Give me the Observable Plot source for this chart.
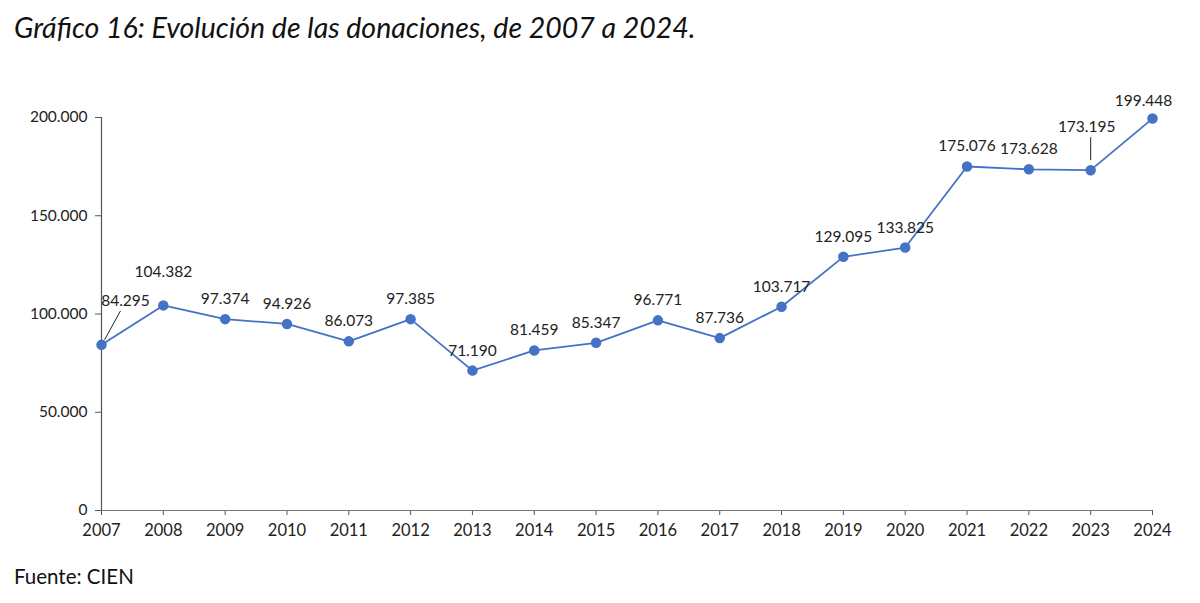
<!DOCTYPE html>
<html>
<head>
<meta charset="utf-8">
<script src="https://cdn.jsdelivr.net/npm/d3@7"></script>
<script src="https://cdn.jsdelivr.net/npm/@observablehq/plot@0.6"></script>
<style>
  html, body { margin: 0; padding: 0; background: #fff; }
  #wrap { position: relative; width: 1200px; height: 603px; overflow: hidden; font-family: Lato, "Open Sans", sans-serif; color: #111; }
  #title { position: absolute; left: 14px; top: 10px; font-size: 28.5px; font-style: italic; white-space: nowrap; }
  #chart { position: absolute; left: 0; top: 70px; }
  #caption { position: absolute; left: 14px; top: 564px; font-size: 20.5px; white-space: nowrap; }
</style>
</head>
<body>
<div id="wrap">
  <div id="title">Gráfico 16: Evolución de las donaciones, de 2007 a 2024.</div>
  <div id="chart"></div>
  <div id="caption">Fuente: CIEN</div>
</div>
<script>
const years = [2007, 2008, 2009, 2010, 2011, 2012, 2013, 2014, 2015, 2016, 2017, 2018, 2019, 2020, 2021, 2022, 2023, 2024];
const donaciones = [84295, 104382, 97374, 94926, 86073, 97385, 71190, 81459, 85347, 96771, 87736, 103717, 129095, 133825, 175076, 173628, 173195, 199448];
const yTicks = [0, 50000, 100000, 150000, 200000];

const data = years.map((year, i) => ({year, value: donaciones[i]}));

const es = d3.formatLocale({decimal: ",", thousands: ".", grouping: [3], currency: ["", ""]});
const fmt = es.format(",d");

const blue = "#4472C4";
const W = 1200, H = 480, mTop = 47, mBottom = 40, mLeft = 101, mRight = 48;
const pxPerUnit = (H - mTop - mBottom) / 200000; // pixels per donation unit
const pxPerYear = (W - mLeft - mRight) / 17;
const u = px => px / pxPerUnit;   // pixels -> value units
const yr = px => px / pxPerYear;  // pixels -> years

const special = new Set([2007, 2008, 2023, 2024]);
const byYear = y => data.filter(d => d.year === y);
const LBL = 15.5;

const chart = Plot.plot({
  width: W,
  height: H,
  marginTop: mTop,
  marginBottom: mBottom,
  marginLeft: mLeft,
  marginRight: mRight,
  style: {fontFamily: "Lato, 'Open Sans', sans-serif", fontSize: "15px", color: "#222", background: "#fff"},
  x: {type: "linear", domain: [2007, 2024], label: null},
  y: {domain: [0, 200000], label: null},
  marks: [
    Plot.axisX({ticks: years, tickFormat: d => String(d), tickSize: 5, tickPadding: 9, fontSize: 16.5, stroke: "#555", color: "#222", label: null}),
    Plot.axisY({ticks: yTicks, tickFormat: fmt, tickSize: 6, tickPadding: 8, fontSize: 15.5, stroke: "#555", color: "#222", label: null}),
    Plot.ruleY([0], {stroke: "#777", strokeWidth: 1.2}),
    Plot.ruleX([2007], {stroke: "#555", strokeWidth: 1.2}),
    Plot.line(data, {x: "year", y: "value", stroke: blue, strokeWidth: 1.8}),
    Plot.dot(data, {x: "year", y: "value", r: 4.5, fill: blue, stroke: blue}),
    // leader lines
    Plot.link(byYear(2007), {x1: d => d.year + yr(3), y1: d => d.value + u(5), x2: d => d.year + yr(19), y2: d => d.value + u(34), stroke: "#222", strokeWidth: 1}),
    Plot.link(byYear(2023), {x1: "year", y1: d => d.value + u(10), x2: "year", y2: d => d.value + u(33), stroke: "#222", strokeWidth: 1}),
    // value labels
    Plot.text(data.filter(d => !special.has(d.year)), {x: "year", y: "value", text: d => fmt(d.value), dy: -20, fill: "#222", fontSize: LBL}),
    Plot.text(byYear(2007), {x: "year", y: "value", text: d => fmt(d.value), dx: 24, dy: -44, fill: "#222", fontSize: LBL}),
    Plot.text(byYear(2008), {x: "year", y: "value", text: d => fmt(d.value), dy: -33, fill: "#222", fontSize: LBL}),
    Plot.text(byYear(2023), {x: "year", y: "value", text: d => fmt(d.value), dx: -4, dy: -43, fill: "#222", fontSize: LBL}),
    Plot.text(byYear(2024), {x: "year", y: "value", text: d => fmt(d.value), dx: -9, dy: -18, fill: "#222", fontSize: LBL})
  ]
});
document.getElementById("chart").appendChild(chart);
</script>
</body>
</html>
